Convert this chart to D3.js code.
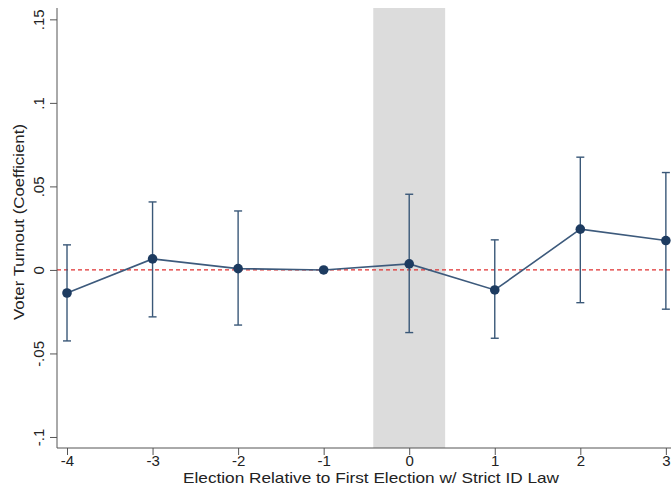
<!DOCTYPE html>
<meta charset="utf-8">
<style>
body { margin: 0; background: #fff; }
text { font-family: "Liberation Sans", Arial, sans-serif; fill: #222; }
.axis path, .axis line { stroke: #555; }
</style>
<svg width="671" height="490"></svg>
<script src="https://d3js.org/d3.v7.min.js"></script>
<script>

// event study estimates, election relative to first strict ID law
var periods = [-4, -3, -2, -1, 0, 1, 2, 3];
var coef    = [-0.0138, 0.0066, 0.0008, 0, 0.0036, -0.012, 0.0244, 0.0176];
var ciLow   = [-0.0425, -0.0281, -0.0330, 0, -0.0375, -0.0409, -0.0196, -0.0235];
var ciHigh  = [0.0150, 0.0407, 0.0353, 0, 0.0453, 0.0180, 0.0675, 0.0583];
var yTicks  = [-0.1, -0.05, 0, 0.05, 0.1, 0.15];
var yTickLabels = ["-.1", "-.05", "0", ".05", ".1", ".15"];
var xTickLabels = ["-4", "-3", "-2", "-1", "0", "1", "2", "3"];
var shadeBand = [-0.42, 0.42];

var rows = periods.map(function(p, i) {
  return {p: p, b: coef[i], lo: ciLow[i], hi: ciHigh[i]};
});

var svg = d3.select("svg");

var x = d3.scaleLinear().domain([-4.117, 3.06]).range([57, 671]);
var y = d3.scaleLinear().domain([-0.1066, 0.1568]).range([448, 8]);

// shaded window around the first election
svg.append("rect")
    .attr("x", x(shadeBand[0]))
    .attr("y", y.range()[1])
    .attr("width", x(shadeBand[1]) - x(shadeBand[0]))
    .attr("height", y.range()[0] - y.range()[1])
    .attr("fill", "#dcdcdc");

// zero reference
svg.append("line")
    .attr("x1", 57).attr("x2", 671)
    .attr("y1", y(0)).attr("y2", y(0))
    .attr("stroke", "#e03030")
    .attr("stroke-width", 1.3)
    .attr("stroke-dasharray", "4,3");

var bars = svg.append("g").attr("stroke", "#3a5878").attr("stroke-width", 1.4);
rows.filter(function(d) { return d.p !== -1; }).forEach(function(d) {
  bars.append("line")
      .attr("x1", x(d.p)).attr("x2", x(d.p))
      .attr("y1", y(d.lo)).attr("y2", y(d.hi));
  [d.lo, d.hi].forEach(function(v) {
    bars.append("line")
        .attr("x1", x(d.p) - 4).attr("x2", x(d.p) + 4)
        .attr("y1", y(v)).attr("y2", y(v));
  });
});

var line = d3.line()
    .x(function(d) { return x(d.p); })
    .y(function(d) { return y(d.b); });

svg.append("path")
    .datum(rows)
    .attr("d", line)
    .attr("fill", "none")
    .attr("stroke", "#3d5a7c")
    .attr("stroke-width", 1.6);

svg.append("g")
  .selectAll("circle")
  .data(rows)
  .enter().append("circle")
    .attr("cx", function(d) { return x(d.p); })
    .attr("cy", function(d) { return y(d.b); })
    .attr("r", 4.8)
    .attr("fill", "#1d3b60");

// axes
var yAxis = svg.append("g")
    .attr("class", "axis")
    .attr("transform", "translate(57,0)")
    .call(d3.axisLeft(y).tickValues(yTicks).tickSize(7)
      .tickFormat(function(d, i) { return yTickLabels[i]; }));
yAxis.select(".domain").attr("d", "M0," + y.range()[1] + "V" + y.range()[0]);
yAxis.selectAll(".tick text")
    .attr("font-size", 15)
    .attr("transform", "rotate(-90)")
    .attr("text-anchor", "middle")
    .attr("x", 0)
    .attr("y", -13)
    .attr("dy", "0");

var xAxis = svg.append("g")
    .attr("class", "axis")
    .attr("transform", "translate(0,448)")
    .call(d3.axisBottom(x).tickValues(periods).tickSize(7)
      .tickFormat(function(d, i) { return xTickLabels[i]; }));
xAxis.select(".domain").attr("d", "M57,0H671");
xAxis.selectAll(".tick text")
    .attr("font-size", 15)
    .attr("y", 18)
    .attr("dy", "0");

svg.append("text")
    .attr("x", 371).attr("y", 483)
    .attr("text-anchor", "middle")
    .attr("font-size", 15)
    .attr("textLength", 376)
    .attr("lengthAdjust", "spacingAndGlyphs")
    .text("Election Relative to First Election w/ Strict ID Law");

svg.append("text")
    .attr("transform", "translate(24,222) rotate(-90)")
    .attr("text-anchor", "middle")
    .attr("font-size", 15)
    .attr("textLength", 196)
    .attr("lengthAdjust", "spacingAndGlyphs")
    .text("Voter Turnout (Coefficient)");

</script>
